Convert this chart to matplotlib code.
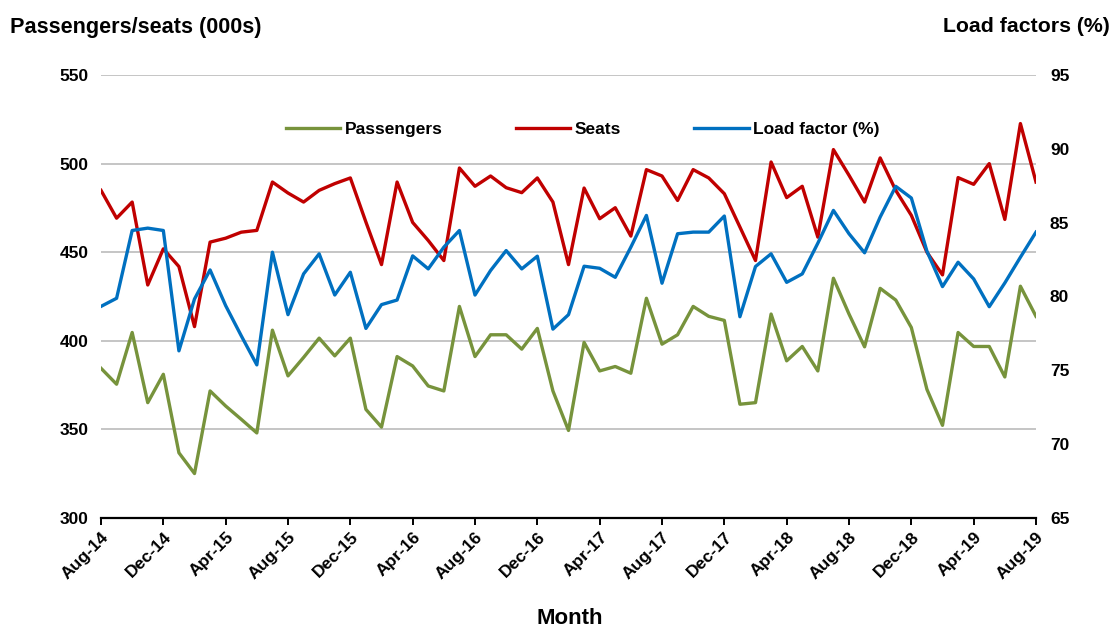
import numpy as np
import pandas as pd
import matplotlib
matplotlib.use("Agg")
import matplotlib.pyplot as plt
from matplotlib import ticker as tk

plt.rcParams['font.family'] = ['Liberation Sans', 'DejaVu Sans']
plt.rcParams['font.weight'] = 'bold'

months = pd.date_range("2014-08-01", "2019-08-01", freq="MS")
month_labels = [m.strftime("%b-%y") for m in months]

passengers = [384.5, 375.5, 404.7, 365.1, 381.1, 336.8, 325.1, 371.7, 363.2, 355.7,
              348.0, 406.0, 380.2, 390.6, 401.5, 391.5, 401.5, 361.3, 351.3, 391.1,
              385.8, 374.5, 371.7, 419.4, 391.1, 403.4, 403.4, 395.3, 407.0, 371.7,
              349.4, 399.1, 383.0, 385.5, 381.7, 424.0, 398.1, 403.4, 419.4, 413.8,
              411.5, 364.2, 365.1, 415.1, 388.7, 396.8, 383.0, 435.3, 415.1, 396.6,
              429.6, 423.0, 407.5, 372.6, 352.3, 404.7, 396.8, 396.8, 379.6, 430.8,
              413.8]

seats = [484.9, 469.2, 478.3, 431.5, 451.9, 441.9, 408.0, 455.7, 457.9, 461.3,
         462.3, 489.6, 483.4, 478.3, 484.9, 488.7, 491.9, 467.0, 443.0, 489.6,
         466.8, 456.6, 445.3, 497.5, 487.2, 493.0, 486.4, 483.6, 491.9, 478.3,
         443.0, 486.2, 468.9, 475.1, 459.1, 496.6, 493.0, 479.2, 496.6, 491.9,
         483.0, 464.2, 445.3, 500.9, 480.8, 487.2, 458.5, 507.9, 493.4, 478.3,
         503.2, 484.9, 470.8, 450.0, 437.2, 492.1, 488.3, 500.0, 468.5, 522.6,
         489.6]

load_factor = [79.33, 79.88, 84.47, 84.63, 84.47, 76.32, 79.83, 81.80, 79.38, 77.34,
               75.37, 83.00, 78.77, 81.53, 82.89, 80.10, 81.64, 77.84, 79.45, 79.76,
               82.75, 81.87, 83.34, 84.47, 80.10, 81.76, 83.11, 81.87, 82.73, 77.79,
               78.77, 82.05, 81.91, 81.30, 83.34, 85.49, 80.90, 84.25, 84.36, 84.36,
               85.45, 78.63, 82.03, 82.89, 80.96, 81.53, 83.61, 85.83, 84.25, 82.96,
               85.38, 87.46, 86.67, 83.07, 80.67, 82.32, 81.19, 79.31, 80.92, 82.66,
               84.36]

GREEN = "#77933C"
RED = "#C00000"
BLUE = "#0070C0"
FS = 12.5

fig = plt.figure(figsize=(11.16, 6.28), dpi=100)
ax = fig.add_axes([101 / 1116, 1 - 518 / 628, 935 / 1116, 443 / 628])
ax2 = ax.twinx()

x = np.arange(len(months))
l1, = ax.plot(x, passengers, color=GREEN, lw=2.4, label="Passengers")
l2, = ax.plot(x, seats, color=RED, lw=2.4, label="Seats")
l3, = ax2.plot(x, load_factor, color=BLUE, lw=2.4, label="Load factor (%)")

ax.set_xlim(0, len(months) - 1)
ax.set_ylim(300, 550)
ax2.set_ylim(65, 95)
ax.yaxis.set_major_locator(tk.MultipleLocator(50))
ax2.yaxis.set_major_locator(tk.MultipleLocator(5))

ax.grid(axis="y", color="#C0C0C0", lw=1.3)
ax.set_axisbelow(True)
for s in ["top", "left", "right"]:
    ax.spines[s].set_visible(False)
    ax2.spines[s].set_visible(False)
ax2.spines["bottom"].set_visible(False)
ax.spines["bottom"].set_linewidth(1.6)

ticks = x[::4]
ax.set_xticks(ticks)
ax.set_xticklabels([month_labels[i] for i in ticks], rotation=45, ha="right",
                   rotation_mode="anchor", fontsize=FS, fontweight="bold")
ax.tick_params(axis="x", direction="out", length=5, width=1.4, pad=3)
ax.tick_params(axis="y", length=0, pad=9, labelsize=FS)
ax2.tick_params(axis="y", length=0, pad=10, labelsize=FS)
for lab in ax.get_yticklabels() + ax2.get_yticklabels():
    lab.set_fontweight("bold")

ax2.legend(handles=[l1, l2, l3], loc="upper center", bbox_to_anchor=(0.515, 0.93),
           ncol=3, frameon=False, handlelength=3.15,
           columnspacing=4.2, handletextpad=0.25, prop={"weight": "bold", "size": FS})

fig.text(10 / 1116, 1 - 27 / 628, "Passengers/seats (000s)", fontsize=15.6,
         fontweight="bold", va="center", ha="left")
fig.text(1110 / 1116, 1 - 27 / 628, "Load factors (%)", fontsize=15.3,
         fontweight="bold", va="center", ha="right")
fig.text(570 / 1116, 1 - 618 / 628, "Month", fontsize=16,
         fontweight="bold", va="center", ha="center")

plt.savefig("out.png", dpi=100)
